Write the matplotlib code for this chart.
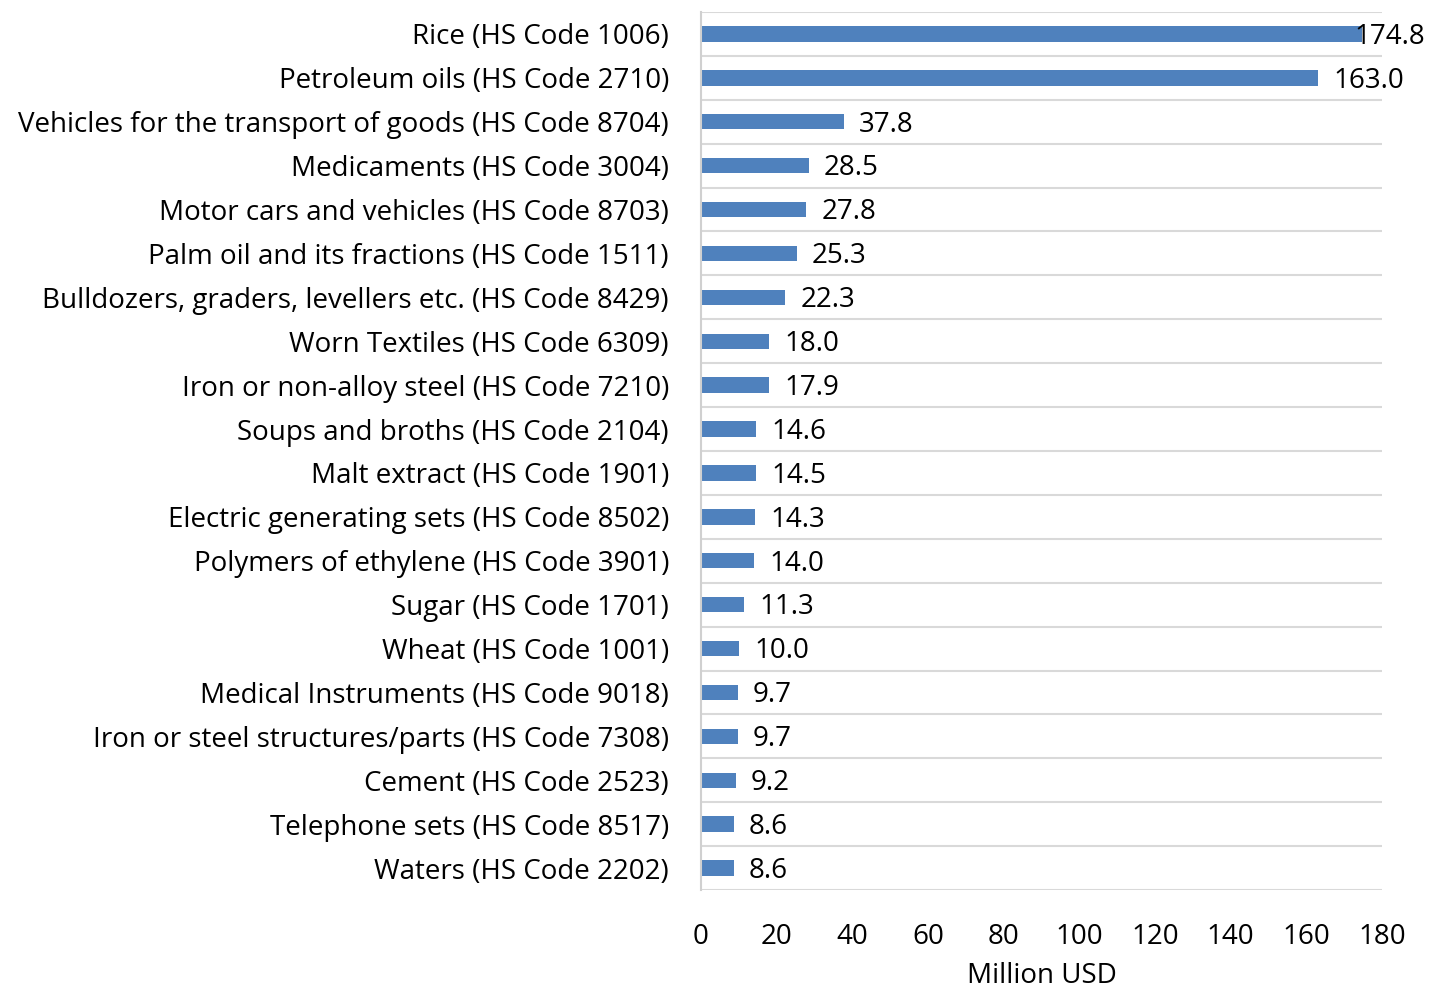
import numpy as np
import matplotlib.pyplot as plt

plt.rcParams['font.family'] = ['Open Sans', 'DejaVu Sans']

products = [
    'Rice (HS Code 1006)',
    'Petroleum oils (HS Code 2710)',
    'Vehicles for the transport of goods (HS Code 8704)',
    'Medicaments (HS Code 3004)',
    'Motor cars and vehicles (HS Code 8703)',
    'Palm oil and its fractions (HS Code 1511)',
    'Bulldozers, graders, levellers etc. (HS Code 8429)',
    'Worn Textiles (HS Code 6309)',
    'Iron or non-alloy steel (HS Code 7210)',
    'Soups and broths (HS Code 2104)',
    'Malt extract (HS Code 1901)',
    'Electric generating sets (HS Code 8502)',
    'Polymers of ethylene (HS Code 3901)',
    'Sugar (HS Code 1701)',
    'Wheat (HS Code 1001)',
    'Medical Instruments (HS Code 9018)',
    'Iron or steel structures/parts (HS Code 7308)',
    'Cement (HS Code 2523)',
    'Telephone sets (HS Code 8517)',
    'Waters (HS Code 2202)',
]
values = [174.8, 163.0, 37.8, 28.5, 27.8, 25.3, 22.3, 18.0, 17.9, 14.6,
          14.5, 14.3, 14.0, 11.3, 10.0, 9.7, 9.7, 9.2, 8.6, 8.6]
xticks = [0, 20, 40, 60, 80, 100, 120, 140, 160, 180]

fig = plt.figure(figsize=(14.44, 9.9), dpi=100)
ax = fig.add_axes([701 / 1444, 1 - 890 / 990, (1382 - 701) / 1444, (890 - 12) / 990])

y = np.arange(len(products))
ax.barh(y, values, height=0.35, color='#4F81BD')

ax.set_xlim(0, 180)
ax.set_ylim(len(products) - 0.5, -0.5)
ax.set_yticks(y)
ax.set_yticklabels(products, fontsize=20)
ax.set_xticks(xticks)
ax.tick_params(axis='x', labelsize=20, length=0, pad=24)
ax.tick_params(axis='y', length=0, pad=23)

ax.set_yticks(np.arange(-0.5, len(products)), minor=True)
ax.tick_params(axis='y', which='minor', length=0)
ax.grid(which='minor', axis='y', color='#D9D9D9', linewidth=1.5)
ax.set_axisbelow(True)

for s in ['top', 'right', 'bottom']:
    ax.spines[s].set_visible(False)
ax.spines['left'].set_color('#D0D0D0')
ax.spines['left'].set_linewidth(1.5)

ax.set_xlabel('Million USD', fontsize=20, labelpad=8)

for i, v in enumerate(values):
    off = -6 if v > 170 else 11
    ax.annotate(f'{v:.1f}', xy=(v, i), xytext=(off, -2), textcoords='offset points',
                ha='left', va='center', fontsize=20, annotation_clip=False)

fig.savefig('out.png', dpi=100)
